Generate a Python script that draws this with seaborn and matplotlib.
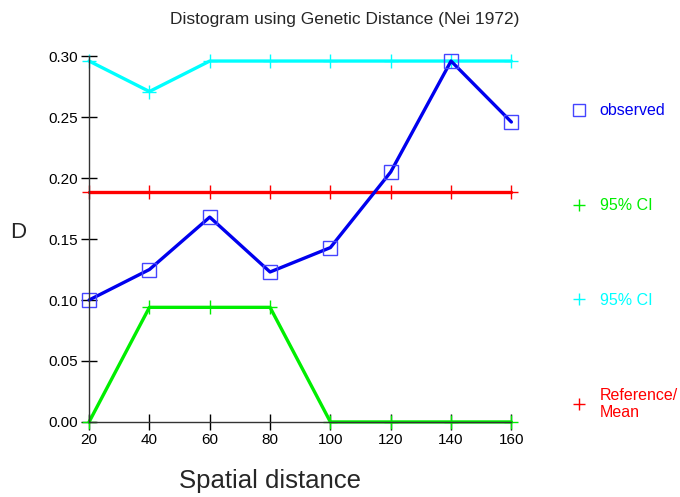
import pandas as pd
import matplotlib.pyplot as plt
import seaborn as sns
from matplotlib.lines import Line2D

# spatial distance classes
distance = [20, 40, 60, 80, 100, 120, 140, 160]

# Nei 1972 genetic distance
observed = [0.100, 0.125, 0.168, 0.123, 0.143, 0.205, 0.296, 0.246]
ci_lower = [0.000, 0.094, 0.094, 0.094, 0.000, 0.000, 0.000, 0.000]
ci_upper = [0.296, 0.271, 0.296, 0.296, 0.296, 0.296, 0.296, 0.296]
ref_mean = [0.189, 0.189, 0.189, 0.189, 0.189, 0.189, 0.189, 0.189]

y_ticks = [0.00, 0.05, 0.10, 0.15, 0.20, 0.25, 0.30]

sns.set_style("ticks")
plt.rcParams['font.family'] = ['Liberation Sans', 'DejaVu Sans']

df = pd.DataFrame({"dist": distance, "obs": observed, "lo": ci_lower,
                   "hi": ci_upper, "ref": ref_mean})

fig = plt.figure(figsize=(6.8, 4.97), dpi=100)
ax = fig.add_axes([0.131, 0.151, 0.621, 0.736])

series = [("lo", "#00ee00"), ("hi", "#00ffff"), ("ref", "#ff0000")]
for col, c in series:
    sns.lineplot(data=df, x="dist", y=col, color=c, ax=ax, linewidth=2.4,
                 marker="+", markersize=9.5, markeredgewidth=1.0,
                 markeredgecolor=c, clip_on=False)
sns.lineplot(data=df, x="dist", y="obs", color="#0000ee", ax=ax, linewidth=2.4,
             marker="s", markersize=10, markerfacecolor="none",
             markeredgecolor="#4444ff", markeredgewidth=1.0, clip_on=False)

ax.set_xlim(20, 160)
ax.set_ylim(0, 0.30)
ax.set_xticks(distance)
ax.set_yticks(y_ticks)
ax.set_yticklabels([f"{v:.2f}" for v in y_ticks])
ax.tick_params(direction="inout", length=12, width=1, labelsize=11, colors="black", pad=2)
for side in ["top", "right"]:
    ax.spines[side].set_visible(False)
for side in ["left", "bottom"]:
    ax.spines[side].set_color("#333333")
    ax.spines[side].set_linewidth(1)
ax.set_xlabel("")
ax.set_ylabel("")

fig.text(0.507, 0.96, "Distogram using Genetic Distance (Nei 1972)", ha="center",
         va="center", fontsize=12.5)
fig.text(0.397, 0.033, "Spatial distance", ha="center", va="center", fontsize=18.5)
fig.text(0.027, 0.533, "D", ha="center", va="center", fontsize=16)

handles = [
    Line2D([], [], linestyle="none", marker="s", markersize=9, markerfacecolor="none",
           markeredgecolor="#4444ff", color="#0000ee"),
    Line2D([], [], linestyle="none", marker="+", markersize=9, color="#00ee00"),
    Line2D([], [], linestyle="none", marker="+", markersize=9, color="#00ffff"),
    Line2D([], [], linestyle="none", marker="+", markersize=9, color="#ff0000"),
]
labels = ["observed", "95% CI", "95% CI", "Reference/\nMean"]
leg = fig.legend(handles, labels, loc="upper left", bbox_to_anchor=(0.83, 0.805),
                 frameon=False, fontsize=11.5, labelspacing=5.0, handlelength=1.0,
                 handletextpad=0.8, borderaxespad=0)
for txt, h in zip(leg.get_texts(), handles):
    txt.set_color(h.get_color())

fig.savefig("out.png", dpi=100)
